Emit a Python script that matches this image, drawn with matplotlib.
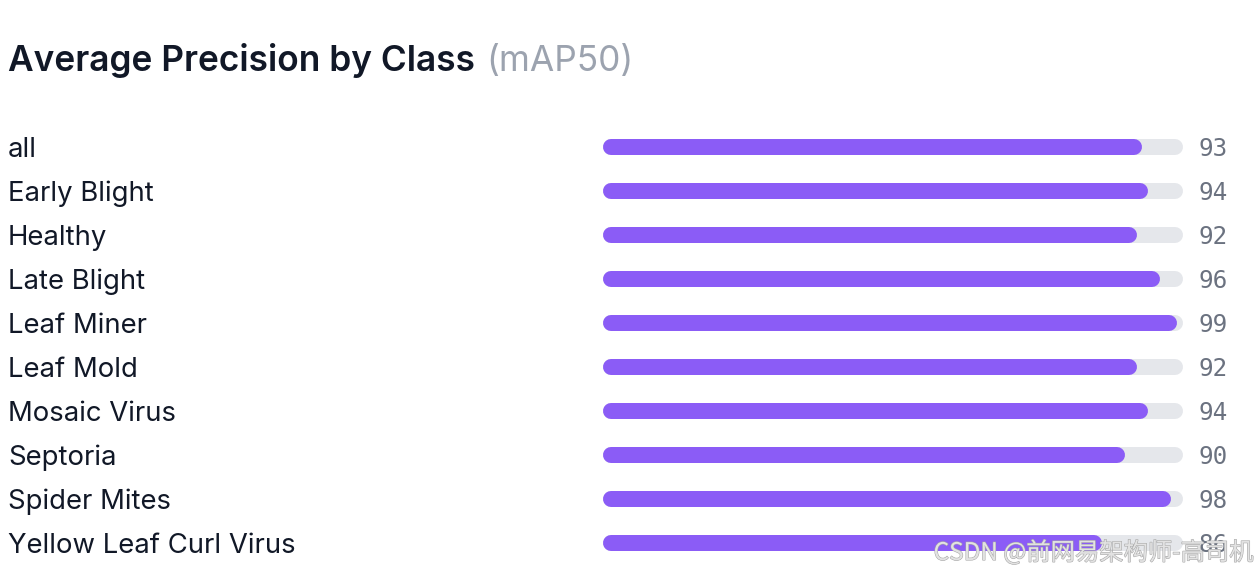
import matplotlib.pyplot as plt
from matplotlib.patches import Rectangle
import matplotlib.patheffects as pe

# Data
classes = [
    "all", "Early Blight", "Healthy", "Late Blight", "Leaf Miner",
    "Leaf Mold", "Mosaic Virus", "Septoria", "Spider Mites",
    "Yellow Leaf Curl Virus",
]
ap50 = [93, 94, 92, 96, 99, 92, 94, 90, 98, 86]

W, H = 1258, 576
fig = plt.figure(figsize=(W / 100, H / 100), dpi=100)
fig.patch.set_facecolor("white")

# bar area in pixels: track from x=603 to 1183, rows 44 px apart
x0, x1 = 603, 1183
top, row_h = 125, 44
bar_px = 16
ax = fig.add_axes([x0 / W, 1 - (top + row_h * len(classes)) / H,
                   (x1 - x0) / W, row_h * len(classes) / H])
ax.set_xlim(0, 100)
ax.set_ylim(len(classes) - 0.5, -0.5)
ax.axis("off")

lw = bar_px * 72 / 100          # line width in points
cap = (bar_px / 2) / (x1 - x0) * 100  # round cap size in data units
txt_dy = 2 / row_h              # text sits ~2px lower than bar centre

for i, v in enumerate(ap50):
    ax.plot([cap, 100 - cap], [i, i], color="#e5e7eb", lw=lw,
            solid_capstyle="round")
    line, = ax.plot([cap, max(v - cap, cap)], [i, i], color="#8b5cf6",
                    lw=lw, solid_capstyle="round")
    clip = Rectangle((0, i - 0.5), v, 1, transform=ax.transData)
    line.set_clip_path(clip)
    ax.text(100 + 16 / (x1 - x0) * 100, i + txt_dy, str(v), va="center",
            ha="left", fontsize=17.5, family="DejaVu Sans Mono",
            color="#6b7280")
    fig.text(8 / W, 1 - (top + row_h * i + row_h / 2 + 3) / H, classes[i],
             va="center", ha="left", fontsize=19.8, family="Inter",
             color="#111827")

# Title
t = fig.text(8 / W, 1 - 61 / H, "Average Precision by Class", fontsize=25.4,
             family="Inter", fontweight="semibold", color="#111827",
             va="center", ha="left")
fig.canvas.draw()
bb = t.get_window_extent()
fig.text((bb.x1 + 11) / W, 1 - 61 / H, "(mAP50)", fontsize=25.4,
         family="Inter", color="#9ca3af", va="center", ha="left")

# watermark
fig.text(1253 / W, 1 - 553 / H, "CSDN @前网易架构师-高司机", fontsize=17.5,
         family=["Noto Sans CJK SC", "DejaVu Sans"], color="#e2e2e2",
         va="center", ha="right",
         path_effects=[pe.withStroke(linewidth=0.8, foreground="#a8a8a8")])

fig.savefig("out.png", dpi=100)
